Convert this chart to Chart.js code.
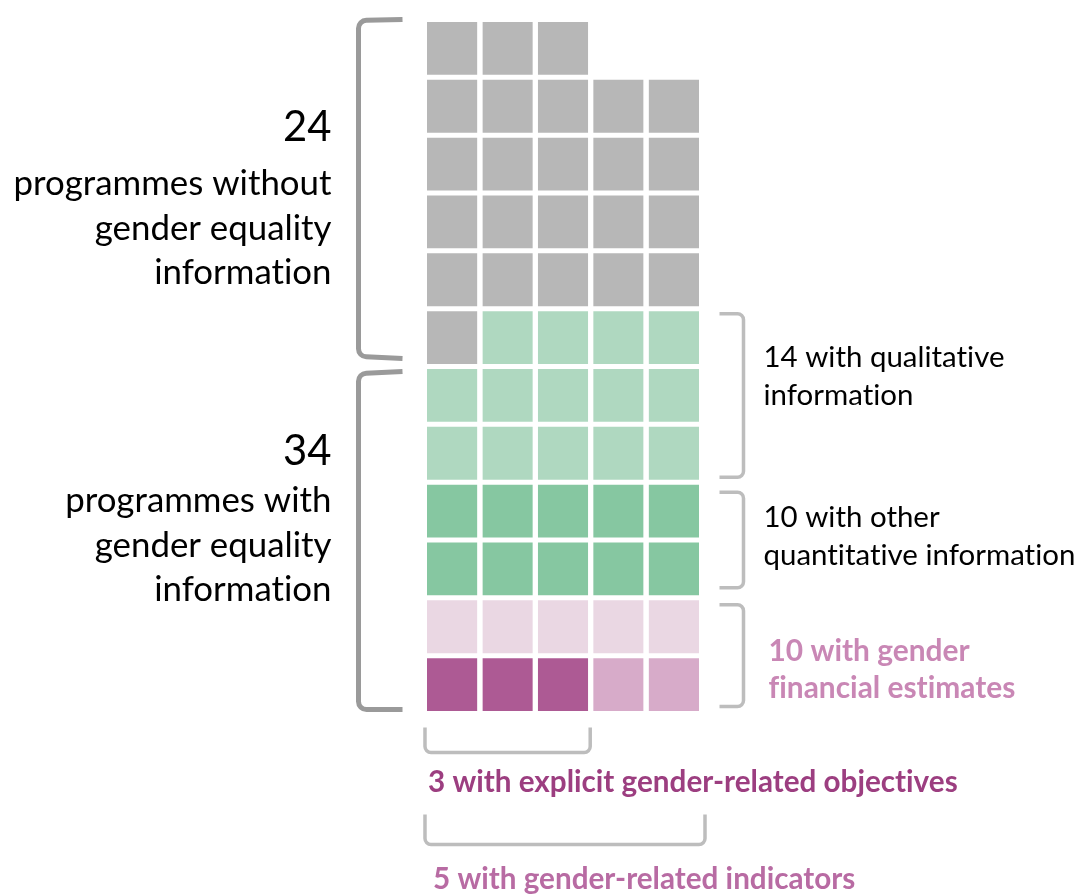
<!DOCTYPE html>
<html>
<head>
<meta charset="utf-8">
<title>Programmes and gender equality information</title>
<script src="https://cdn.jsdelivr.net/npm/chart.js@4.4.1/dist/chart.umd.min.js"></script>
<style>
  html, body { margin: 0; padding: 0; background: #fff; }
  #wrap { width: 1080px; height: 895px; position: relative; }
  canvas { font-variant-ligatures: none; }
</style>
</head>
<body>
<div id="wrap"><canvas id="waffle"></canvas></div>
<script>
// waffle groups, in the order the cells are filled (left to right, top to bottom)
var groups = ['No gender equality information', 'Qualitative information', 'Other quantitative information',
              'Financial estimates only', 'Explicit gender-related objectives', 'Gender-related indicators'];
var counts = [24, 14, 10, 5, 3, 2];
var colours = ['#b7b7b7', '#afd8c0', '#86c7a1', '#ead7e3', '#ad5a94', '#d7abc9'];
var columns = ['1', '2', '3', '4', '5'];

// text beside the grid
var leftTop = ['24', 'programmes without', 'gender equality', 'information'];
var leftBottom = ['34', 'programmes with', 'gender equality', 'information'];
var rightQual = ['14 with qualitative', 'information'];
var rightQuant = ['10 with other', 'quantitative information'];
var rightFin = ['10 with gender', 'financial estimates'];
var bottomObj = '3 with explicit gender-related objectives';
var bottomInd = '5 with gender-related indicators';

// build the cells
var cells = [];
counts.forEach(function (n, g) {
  for (var i = 0; i < n; i++) cells.push(colours[g]);
});
var nCols = columns.length;
var nRows = Math.ceil(cells.length / nCols);
var firstRow = cells.length - (nRows - 1) * nCols;

var rows = []; // top row first
var k = 0;
for (var r = 0; r < nRows; r++) {
  var inRow = r === 0 ? firstRow : nCols;
  var vals = [], cols = [];
  for (var c = 0; c < nCols; c++) {
    if (c < inRow) { vals.push(1); cols.push(cells[k++]); }
    else { vals.push(null); cols.push('#fff'); }
  }
  rows.push({ vals: vals, cols: cols });
}

// stacked datasets go bottom up
var datasets = rows.slice().reverse().map(function (row, i) {
  return {
    label: 'row ' + (i + 1),
    data: row.vals,
    backgroundColor: row.cols,
    borderColor: '#ffffff',
    borderWidth: { top: 2.5, bottom: 2.5, left: 0, right: 0 },
    borderSkipped: false,
    barPercentage: 0.91,
    categoryPercentage: 1
  };
});

var FONT = 'Lato, "Open Sans", sans-serif';

function fitSize(ctx, lines, weight, width) {
  ctx.font = weight + ' 100px ' + FONT;
  var w = 0;
  lines.forEach(function (l) { w = Math.max(w, ctx.measureText(l).width); });
  return 100 * width / w;
}

function roundPath(ctx, pts, rad) {
  ctx.beginPath();
  ctx.moveTo(pts[0][0], pts[0][1]);
  for (var i = 1; i < pts.length - 1; i++) {
    ctx.arcTo(pts[i][0], pts[i][1], pts[i + 1][0], pts[i + 1][1], rad);
  }
  ctx.lineTo(pts[pts.length - 1][0], pts[pts.length - 1][1]);
  ctx.stroke();
}

function drawLines(ctx, lines, x, y0, step, size, weight, colour, align) {
  ctx.font = weight + ' ' + size + 'px ' + FONT;
  ctx.fillStyle = colour;
  ctx.textAlign = align;
  ctx.textBaseline = 'alphabetic';
  lines.forEach(function (l, i) { ctx.fillText(l, x, y0 + i * step); });
}

var annotations = {
  id: 'annotations',
  afterDraw: function (chart) {
    var ctx = chart.ctx;
    var xs = chart.scales.x, ys = chart.scales.y;
    var area = chart.chartArea;
    var half = xs.getPixelForValue(1) - xs.getPixelForValue(0);
    var cellL = function (c) { return xs.getPixelForValue(c) - half * 0.455; };
    var cellR = function (c) { return xs.getPixelForValue(c) + half * 0.455; };
    ctx.save();
    ctx.lineCap = 'butt';
    if ('textRendering' in ctx) ctx.textRendering = 'optimizeSpeed';

    // left braces
    ctx.strokeStyle = '#9a9a9a';
    ctx.lineWidth = 5;
    var lx = area.left - 66, lx2 = area.left - 22;
    var mid = ys.getPixelForValue(6);
    roundPath(ctx, [[lx2, area.top], [lx, area.top + 1], [lx, mid - 10], [lx2, mid - 8]], 8);
    roundPath(ctx, [[lx2, mid + 5], [lx, mid + 7], [lx, area.bottom - 4], [lx2, area.bottom - 4]], 8);

    // right brackets
    ctx.strokeStyle = '#bdbdbd';
    ctx.lineWidth = 3.5;
    var rx1 = area.right + 18, rx2 = area.right + 42;
    [[7, 4, 5], [4, 2, 10], [2, 0, 7]].forEach(function (b) {
      var t = ys.getPixelForValue(b[0]) + b[2], bt = ys.getPixelForValue(b[1]) - b[2];
      roundPath(ctx, [[rx1, t], [rx2, t], [rx2, bt], [rx1, bt]], 6);
    });

    // bottom brackets
    roundPath(ctx, [[cellL(0) - 2, area.bottom + 14], [cellL(0) - 2, area.bottom + 39],
                    [cellR(2) + 2, area.bottom + 39], [cellR(2) + 2, area.bottom + 14]], 6);
    roundPath(ctx, [[cellL(0) - 2, area.bottom + 101], [cellL(0) - 2, area.bottom + 131],
                    [cellR(4) + 6, area.bottom + 131], [cellR(4) + 6, area.bottom + 101]], 6);

    // left text
    var tx = area.left - 93;
    var sz = fitSize(ctx, leftTop.slice(1), 'normal', 318);
    var big = sz * 1.2;
    drawLines(ctx, [leftTop[0]], tx, 141, 0, big, 'normal', '#000', 'right');
    drawLines(ctx, leftTop.slice(1), tx, 195, 44.5, sz, 'normal', '#000', 'right');
    drawLines(ctx, [leftBottom[0]], tx, 465, 0, big, 'normal', '#000', 'right');
    drawLines(ctx, leftBottom.slice(1), tx, 512, 44.5, sz, 'normal', '#000', 'right');

    // right text
    var rtx = area.right + 62;
    var rs = fitSize(ctx, rightQuant, 'normal', 312);
    drawLines(ctx, rightQual, rtx, 367, 38, rs, 'normal', '#000', 'left');
    drawLines(ctx, rightQuant, rtx, 527, 38, rs, 'normal', '#000', 'left');
    var fs = fitSize(ctx, rightFin, 'bold', 247);
    drawLines(ctx, rightFin, rtx + 5, 661, 37, fs, 'bold', '#c987b5', 'left');

    // bottom text
    var bs = fitSize(ctx, [bottomObj], 'bold', 530);
    drawLines(ctx, [bottomObj], cellL(0) + 1, 792, 0, bs, 'bold', '#9c3e80', 'left');
    drawLines(ctx, [bottomInd], cellL(0) + 6, 889, 0, bs, 'bold', '#b86ba3', 'left');

    ctx.restore();
  }
};

var ctx = document.getElementById('waffle').getContext('2d');
var waffle = new Chart(ctx, {
  type: 'bar',
  data: { labels: columns, datasets: datasets },
  options: {
    responsive: true,
    maintainAspectRatio: false,
    animation: false,
    layout: { padding: { left: 424.5, right: 378.5, top: 19.5, bottom: 181.5 } },
    scales: {
      x: { stacked: true, display: false, grid: { display: false } },
      y: { stacked: true, display: false, min: 0, max: nRows, grid: { display: false } }
    },
    plugins: {
      legend: { display: false },
      tooltip: { enabled: false },
      title: { display: false }
    }
  },
  plugins: [annotations]
});
</script>
</body>
</html>
